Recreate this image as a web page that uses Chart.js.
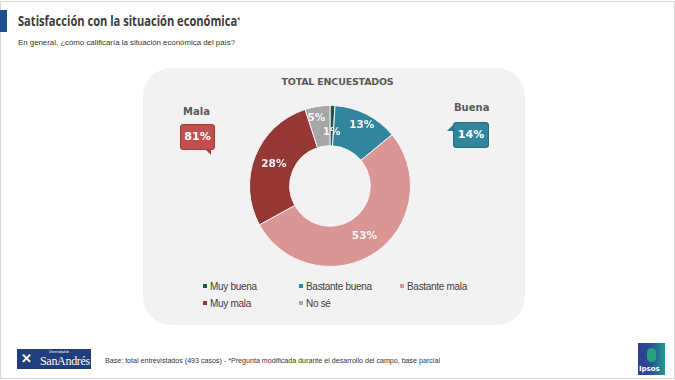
<!DOCTYPE html>
<html>
<head>
<meta charset="utf-8">
<script src="https://cdn.jsdelivr.net/npm/chart.js@4.4.1/dist/chart.umd.min.js"></script>
<style>
  html, body { margin:0; padding:0; background:#fff; }
  #page { position:relative; width:675px; height:380px; overflow:hidden; background:#fff; font-family:"Liberation Sans", Arial, sans-serif; }
  #frame { position:absolute; left:0; top:1px; width:673px; height:376px; border:1px solid #d6d6d6; }
  #bar { position:absolute; left:0; top:10px; width:7px; height:22px; background:#1f4e8c; }
  .fit { position:absolute; white-space:nowrap; transform-origin:0 50%; display:inline-block; }
  #title { left:18px; top:10px; font-family:"Open Sans", sans-serif; font-weight:700; font-size:15px; color:#3b3b3b; line-height:20px; }
  #title sup { font-size:7px; vertical-align:4px; }
  #subtitle { left:18px; top:38px; font-size:7.5px; color:#333; line-height:10px; }
  #panel { position:absolute; left:143px; top:68px; width:382px; height:257px; background:#f2f2f2; border-radius:28px; }
  #ptitle { position:absolute; left:0; width:675px; top:76px; text-align:center; font-family:"DejaVu Sans", sans-serif; font-weight:700; font-size:9.5px; color:#595959; letter-spacing:-0.2px; }
  #chartbox { position:absolute; left:230px; top:105px; width:200px; height:162px; }
  .clab { position:absolute; font-family:"DejaVu Sans", sans-serif; font-weight:700; font-size:10px; color:#595959; }
  .cbox { position:absolute; border-radius:4px; color:#fff; font-family:"DejaVu Sans", sans-serif; font-weight:700; font-size:11px; text-align:center; }
  .cbox:after { content:""; position:absolute; width:0; height:0; }
  #malaBox { left:180px; top:124px; width:35px; height:26px; line-height:26px; background:#c0504d; box-shadow: inset 0 0 0 1px #a33e3b; }
  #malaBox:after { right:4px; bottom:-5px; border-left:6px solid transparent; border-top:6px solid #a8403d; }
  #buenaBox { left:453px; top:122px; width:36px; height:26px; line-height:26px; background:#31859c; box-shadow: inset 0 0 0 1px #266d80; }
  #buenaBox:after { left:-6px; top:3px; border-top:6px solid transparent; border-right:6px solid #2b7b90; }
  #legend { position:absolute; left:0; top:0; }
  .li { position:absolute; font-size:10px; color:#404040; white-space:nowrap; letter-spacing:-0.3px; line-height:12px; }
  .li i { display:inline-block; width:4px; height:4px; margin-right:3px; vertical-align:2px; }
  #footer { left:105px; top:356px; font-size:6.5px; color:#333; line-height:9px; }
  #sa { position:absolute; left:17px; top:349px; width:74px; height:20px; background:#1f3e7c; color:#fff; }
  #sa .x { position:absolute; left:4px; top:2px; font-family:"DejaVu Serif", serif; font-weight:700; font-size:13px; line-height:16px; }
  #sa .n { position:absolute; left:23px; top:5px; font-family:"Liberation Serif", serif; font-size:12px; line-height:14px; letter-spacing:-0.3px; }
  #sa .u { position:absolute; left:32px; top:1px; font-size:3px; line-height:4px; }
  #ip { position:absolute; left:638px; top:343px; width:27px; height:32px; background:linear-gradient(90deg,#2d3f92 0%,#2d4a99 45%,#1f9b8c 100%); color:#fff; }
  #ip .b { position:absolute; left:9px; top:5px; width:9px; height:14px; border-radius:5px; background:#2aa07a; }
  #ip .t { position:absolute; left:1px; bottom:2px; font-family:"DejaVu Sans", sans-serif; font-weight:700; font-size:7px; line-height:8px; }
</style>
</head>
<body>
<div id="page">
  <div id="frame"></div>
  <div id="bar"></div>
  <span id="title" class="fit" data-w="222">Satisfacción con la situación económica<sup>*</sup></span>
  <span id="subtitle" class="fit" data-w="217">En general, ¿cómo calificaría la situación económica del país?</span>
  <div id="panel"></div>
  <div id="ptitle">TOTAL ENCUESTADOS</div>
  <div class="clab" style="left:183px;top:106px;">Mala</div>
  <div class="cbox" id="malaBox">81%</div>
  <div class="clab" style="left:454px;top:102px;">Buena</div>
  <div class="cbox" id="buenaBox">14%</div>
  <div id="chartbox"><canvas id="c"></canvas></div>
  <div id="legend"></div>
  <span id="footer" class="fit" data-w="335">Base: total entrevistados (493 casos) - *Pregunta modificada durante el desarrollo del campo, base parcial</span>
  <div id="sa"><span class="x">✕</span><span class="u">Universidad de</span><span class="n">SanAndrés</span></div>
  <div id="ip"><div class="b"></div><span class="t">Ipsos</span></div>
</div>
<script>
const categories = ["Muy buena", "Bastante buena", "Bastante mala", "Muy mala", "No sé"];
const values = [1, 13, 53, 28, 5];
const valueLabels = ["1%", "13%", "53%", "28%", "5%"];
const colors = ["#1e5253", "#31859c", "#d99694", "#953735", "#a6a6a6"];
const labelColors = ["#f4f4f4", "#f4f4f4", "#f7f7f7", "#f4f4f4", "#f4f4f4"];
const labelRadius = [0.33, 0.68, 0.52, 0.5, 0.7];
const labelShift = [[0, 0], [1, 0], [0, 0], [0, 0], [-3, 0]];

// legend layout (HTML legend built from categories)
const legPos = [[203, 281], [299, 281], [400, 281], [203, 298], [299, 298]];
const leg = document.getElementById('legend');
categories.forEach((c, i) => {
  const d = document.createElement('div');
  d.className = 'li';
  d.style.left = legPos[i][0] + 'px';
  d.style.top = legPos[i][1] + 'px';
  d.innerHTML = '<i style="background:' + colors[i] + '"></i>' + c;
  leg.appendChild(d);
});

const labelPlugin = {
  id: 'sliceLabels',
  afterDatasetsDraw(chart) {
    const ctx = chart.ctx;
    const meta = chart.getDatasetMeta(0);
    ctx.save();
    ctx.font = 'bold 10.5px "DejaVu Sans", sans-serif';
    ctx.textAlign = 'center';
    ctx.textBaseline = 'middle';
    meta.data.forEach((arc, i) => {
      const p = arc.getProps(['x', 'y', 'startAngle', 'endAngle', 'innerRadius', 'outerRadius'], true);
      const a = (p.startAngle + p.endAngle) / 2;
      const r = p.innerRadius + (p.outerRadius - p.innerRadius) * labelRadius[i];
      const x = p.x + Math.cos(a) * r + labelShift[i][0];
      const y = p.y + Math.sin(a) * r + labelShift[i][1];
      ctx.fillStyle = labelColors[i];
      ctx.fillText(valueLabels[i], x, y);
    });
    ctx.restore();
  }
};

new Chart(document.getElementById('c'), {
  type: 'doughnut',
  data: {
    labels: categories,
    datasets: [{
      data: values,
      backgroundColor: colors,
      borderColor: '#f2f2f2',
      borderWidth: 1
    }]
  },
  options: {
    responsive: true,
    maintainAspectRatio: false,
    animation: false,
    cutout: '50%',
    layout: { padding: 0 },
    plugins: { legend: { display: false }, tooltip: { enabled: false } }
  },
  plugins: [labelPlugin]
});

document.querySelectorAll('.fit').forEach(el => {
  const w = el.getBoundingClientRect().width;
  const t = parseFloat(el.dataset.w);
  el.style.transform = 'scaleX(' + (t / w) + ')';
});
</script>
</body>
</html>
